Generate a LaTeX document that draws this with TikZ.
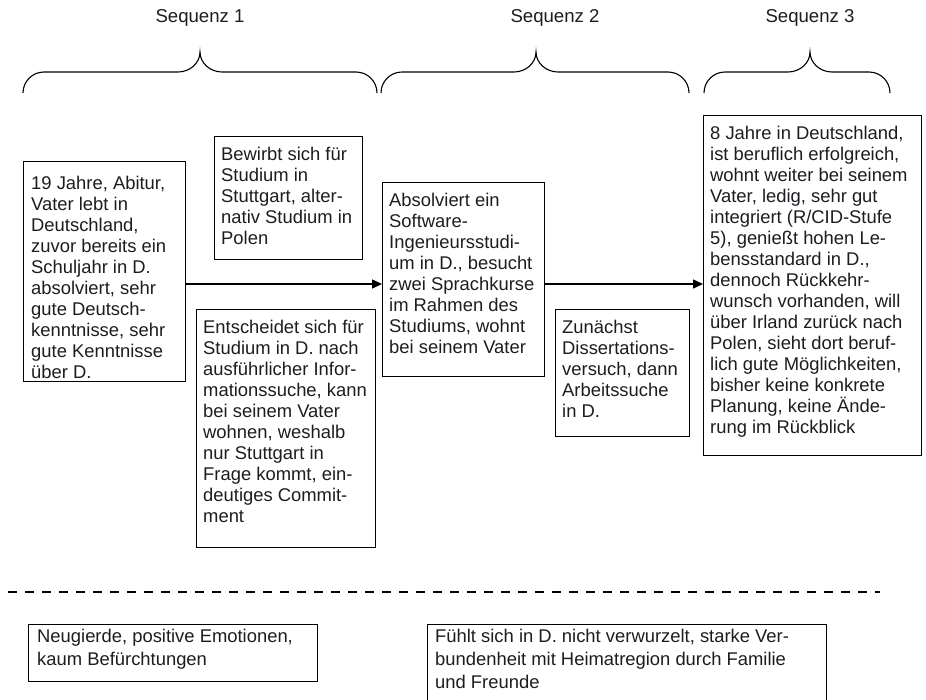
\documentclass[tikz,border=0pt]{standalone}
\usepackage{fontspec}
\setmainfont{Liberation Sans}
\usetikzlibrary{arrows.meta}
\definecolor{ink}{RGB}{28,28,34}

% curly brace over a sequence: left end, right end, tip position
\newcommand\seqbrace[3]{%
  \draw[brace] (#1,93) .. controls (#1,81.4) and ({#1+9.4},72) .. ({#1+21},72)
    -- ({#3-22},72) .. controls ({#3-10},72) and (#3,63) .. (#3,52)
    .. controls (#3,63) and ({#3+10},72) .. ({#3+22},72)
    -- ({#2-21},72) .. controls ({#2-9.4},72) and (#2,81.4) .. (#2,93);}

\begin{document}
\begin{tikzpicture}[x=1pt,y=-1pt,
  box/.style={draw, line width=0.9pt, anchor=north west, inner sep=0pt, outer sep=0pt},
  txt/.style={anchor=north west, inner sep=0pt, align=left, text=ink,
              font=\fontsize{18.4}{21}\selectfont},
  txtlow/.style={txt, font=\fontsize{18.4}{23}\selectfont},
  seqlabel/.style={anchor=base, inner sep=0pt, text=ink, font=\fontsize{18.6}{21}\selectfont},
  brace/.style={line width=1.1pt},
  arr/.style={line width=1.5pt, -{Triangle[length=10pt,width=9pt]}},
  sep/.style={line width=1.6pt, dash pattern=on 9pt off 8pt}]
\useasboundingbox (0,0) rectangle (926,699);

% sequence headings and braces
\node[seqlabel] (s1) at (200,22) {Sequenz 1};
\node[seqlabel] (s2) at (555,22) {Sequenz 2};
\node[seqlabel] (s3) at (810,22) {Sequenz 3};
\seqbrace{23}{377}{200}
\seqbrace{381}{689}{536}
\seqbrace{704}{890}{810}

% frames of the stages
\node[box, minimum width=162pt, minimum height=220pt] (b1) at (23,161) {};
\node[box, minimum width=148pt, minimum height=123pt] (b2) at (214,136) {};
\node[box, minimum width=179pt, minimum height=238pt] (b3) at (196,309) {};
\node[box, minimum width=162pt, minimum height=194pt] (b4) at (382,182) {};
\node[box, minimum width=134pt, minimum height=127pt] (b5) at (555,309) {};
\node[box, minimum width=218pt, minimum height=340pt] (b6) at (703,115) {};
\node[box, minimum width=289pt, minimum height=57pt] (b7) at (28,624) {};
\node[box, minimum width=399pt, minimum height=80pt] (b8) at (427,624) {};

% texts of the stages
\node[txt] (t1) at ([shift={(8,15)}]b1.north west) {19 Jahre, Abitur,\\Vater lebt in\\Deutschland,\\zuvor bereits ein\\Schuljahr in D.\\absolviert, sehr\\gute Deutsch-\\kenntnisse, sehr\\gute Kenntnisse\\über D.};
\node[txt] (t2) at ([shift={(7,11)}]b2.north west) {Bewirbt sich für\\Studium in\\Stuttgart, alter-\\nativ Studium in\\Polen};
\node[txt] (t3) at ([shift={(7,11)}]b3.north west) {Entscheidet sich für\\Studium in D. nach\\ausführlicher Infor-\\mationssuche, kann\\bei seinem Vater\\wohnen, weshalb\\nur Stuttgart in\\Frage kommt, ein-\\deutiges Commit-\\ment};
\node[txt] (t4) at ([shift={(7,11)}]b4.north west) {Absolviert ein\\Software-\\Ingenieursstudi-\\um in D., besucht\\zwei Sprachkurse\\im Rahmen des\\Studiums, wohnt\\bei seinem Vater};
\node[txt] (t5) at ([shift={(7,11)}]b5.north west) {Zunächst\\Dissertations-\\versuch, dann\\Arbeitssuche\\in D.};
\node[txt] (t6) at ([shift={(7,11)}]b6.north west) {8 Jahre in Deutschland,\\ist beruflich erfolgreich,\\wohnt weiter bei seinem\\Vater, ledig, sehr gut\\integriert (R/CID-Stufe\\5), genießt hohen Le-\\bensstandard in D.,\\dennoch Rückkehr-\\wunsch vorhanden, will\\über Irland zurück nach\\Polen, sieht dort beruf-\\lich gute Möglichkeiten,\\bisher keine konkrete\\Planung, keine Ände-\\rung im Rückblick};
\node[txtlow] (t7) at ([shift={(9,5)}]b7.north west) {Neugierde, positive Emotionen,\\kaum Befürchtungen};
\node[txtlow] (t8) at ([shift={(8,5)}]b8.north west) {Fühlt sich in D. nicht verwurzelt, starke Ver-\\bundenheit mit Heimatregion durch Familie\\und Freunde};

% flow between the stages
\draw[arr] (b1.east |- 0,284) -- (b4.west |- 0,284);
\draw[arr] (b4.east |- 0,284) -- (b6.west |- 0,284);

% separator between course and emotions
\draw[sep] (8,592) -- (880,592);
\end{tikzpicture}
\end{document}
